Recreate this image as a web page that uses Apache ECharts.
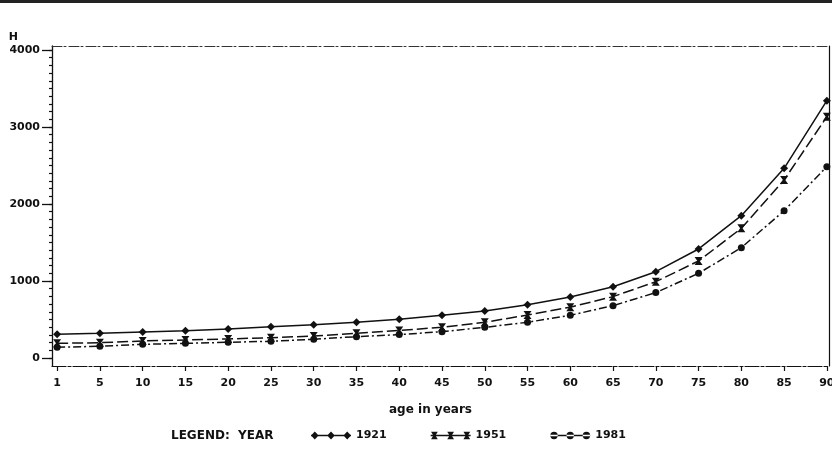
<!DOCTYPE html>
<html>
<head>
<meta charset="utf-8">
<script src="https://cdn.jsdelivr.net/npm/echarts@6/dist/echarts.min.js"></script>
<style>
  html, body { margin: 0; padding: 0; background: #fff; }
  #chart { width: 832px; height: 476px; }
</style>
</head>
<body>
<div id="chart"></div>
<script>
// Age groups along the horizontal axis (evenly spaced)
const ages = [1, 5, 10, 15, 20, 25, 30, 35, 40, 45, 50, 55, 60, 65, 70, 75, 80, 85, 90];

// H by age, one array per census year
const h1921 = [308, 320, 338, 355, 377, 407, 433, 463, 502, 555, 610, 692, 792, 926, 1121, 1416, 1848, 2463, 3342];
const h1951 = [190, 199, 221, 234, 247, 264, 286, 320, 358, 398, 464, 558, 660, 797, 991, 1260, 1684, 2312, 3134];
const h1981 = [139, 152, 178, 190, 204, 217, 243, 277, 304, 342, 398, 464, 554, 680, 849, 1100, 1433, 1913, 2485];

const yearNames = ['1921', '1951', '1981'];
const yLabelValues = [0, 1000, 2000, 3000, 4000];

const FONT = 'DejaVu Sans';
const INK = '#111';

const idx = ages.map((_, i) => i);
const pairs = arr => arr.map((v, i) => [i, v]);
const minorTicks = [];
for (let v = 0; v <= 4000; v += 100) minorTicks.push(v);

// legend glyphs: a short line with three markers on it
const diamondAt = c => `M${c - 3.8},4.5L${c},0.6L${c + 3.8},4.5L${c},8.4Z`;
const bowtieAt = c => `M${c - 3.4},0.8L${c + 3.4},0.8L${c + 1},4.5L${c + 3.4},8.2L${c - 3.4},8.2L${c - 1},4.5Z`;
const circleAt = c => `M${c - 3.7},4.5A3.7,3.7,0,1,0,${c + 3.7},4.5A3.7,3.7,0,1,0,${c - 3.7},4.5Z`;
const bar = (a, b) => `M${a},3.8L${b},3.8L${b},5.2L${a},5.2Z`;
const iconOf = f => 'path://' + bar(0, 40) + f(3.8) + f(20) + f(36.2);

const chart = echarts.init(document.getElementById('chart'), null, { renderer: 'canvas' });

const baseText = { fontFamily: FONT, fontWeight: 'bold', color: INK, fontSize: 11 };
const bigText = Object.assign({}, baseText, { fontSize: 12 });

const xCommon = { type: 'value', min: -0.12, max: 18.05, splitLine: { show: false } };
const yCommon = { type: 'value', min: -104, max: 4052, splitLine: { show: false } };

chart.setOption({
  backgroundColor: '#ffffff',
  animation: false,
  grid: { left: 52, right: 3, top: 46, bottom: 110, containLabel: false, outerBoundsMode: 'none' },
  title: {
    text: 'LEGEND:  YEAR',
    left: 166, top: 425,
    textStyle: bigText
  },
  legend: {
    left: 306, top: 425,
    itemWidth: 40, itemHeight: 9,
    itemGap: 44,
    textStyle: baseText,
    data: [
      { name: yearNames[0], icon: iconOf(diamondAt) },
      { name: yearNames[1], icon: iconOf(bowtieAt) },
      { name: yearNames[2], icon: iconOf(circleAt) }
    ]
  },
  xAxis: [
    Object.assign({}, xCommon, {
      position: 'bottom',
      name: 'age in years',
      nameLocation: 'middle',
      nameGap: 38,
      nameTextStyle: Object.assign({}, bigText, { padding: [0, 20, 0, 0] }),
      axisLine: { show: true, onZero: false, lineStyle: { color: INK, width: 1.2, type: [14, 2, 3, 2] } },
      axisTick: { show: true, length: 5, inside: false, customValues: idx, lineStyle: { color: INK, width: 1.2 } },
      axisLabel: {
        customValues: idx,
        margin: 12,
        formatter: v => String(ages[Math.round(v)]),
        fontFamily: FONT, fontWeight: 'bold', color: INK, fontSize: 11
      }
    }),
    Object.assign({}, xCommon, {
      position: 'top',
      axisLine: { show: true, onZero: false, lineStyle: { color: '#333', width: 1, type: [10, 2, 2, 3] } },
      axisTick: { show: false },
      axisLabel: { show: false }
    })
  ],
  yAxis: [
    Object.assign({}, yCommon, {
      position: 'left',
      name: 'H',
      nameLocation: 'end',
      nameGap: 3,
      nameTextStyle: Object.assign({}, baseText, { align: 'right', padding: [0, 34, 0, 0] }),
      axisLine: { show: true, onZero: false, lineStyle: { color: INK, width: 1.3 } },
      axisTick: { show: true, length: 10, customValues: yLabelValues, lineStyle: { color: INK, width: 1.3 } },
      axisLabel: {
        customValues: yLabelValues,
        margin: 12,
        formatter: v => String(v),
        fontFamily: FONT, fontWeight: 'bold', color: INK, fontSize: 11
      }
    }),
    Object.assign({}, yCommon, {
      position: 'left',
      axisLine: { show: false, onZero: false },
      axisTick: { show: true, length: 3, customValues: minorTicks, lineStyle: { color: INK, width: 1.2 } },
      axisLabel: { show: false }
    }),
    Object.assign({}, yCommon, {
      position: 'right',
      axisLine: { show: true, onZero: false, lineStyle: { color: INK, width: 1.2 } },
      axisTick: { show: false },
      axisLabel: { show: false }
    })
  ],
  series: [
    {
      name: yearNames[0],
      type: 'line',
      data: pairs(h1921),
      symbol: 'diamond',
      symbolSize: [8, 8],
      lineStyle: { color: INK, width: 1.5, type: 'solid' },
      itemStyle: { color: INK },
      z: 3
    },
    {
      name: yearNames[1],
      type: 'line',
      data: pairs(h1951),
      symbol: 'path://M0,0L10,0L6.5,5L10,10L0,10L3.5,5Z',
      symbolSize: [8, 8],
      lineStyle: { color: INK, width: 1.5, type: [11, 4] },
      itemStyle: { color: INK },
      z: 3
    },
    {
      name: yearNames[2],
      type: 'line',
      data: pairs(h1981),
      symbol: 'circle',
      symbolSize: 7,
      lineStyle: { color: INK, width: 1.5, type: [8, 3, 2, 3] },
      itemStyle: { color: INK },
      z: 3
    }
  ],
  graphic: [
    {
      type: 'rect',
      shape: { x: 0, y: 0, width: 832, height: 3 },
      style: { fill: '#222' },
      silent: true
    }
  ]
});
</script>
</body>
</html>
